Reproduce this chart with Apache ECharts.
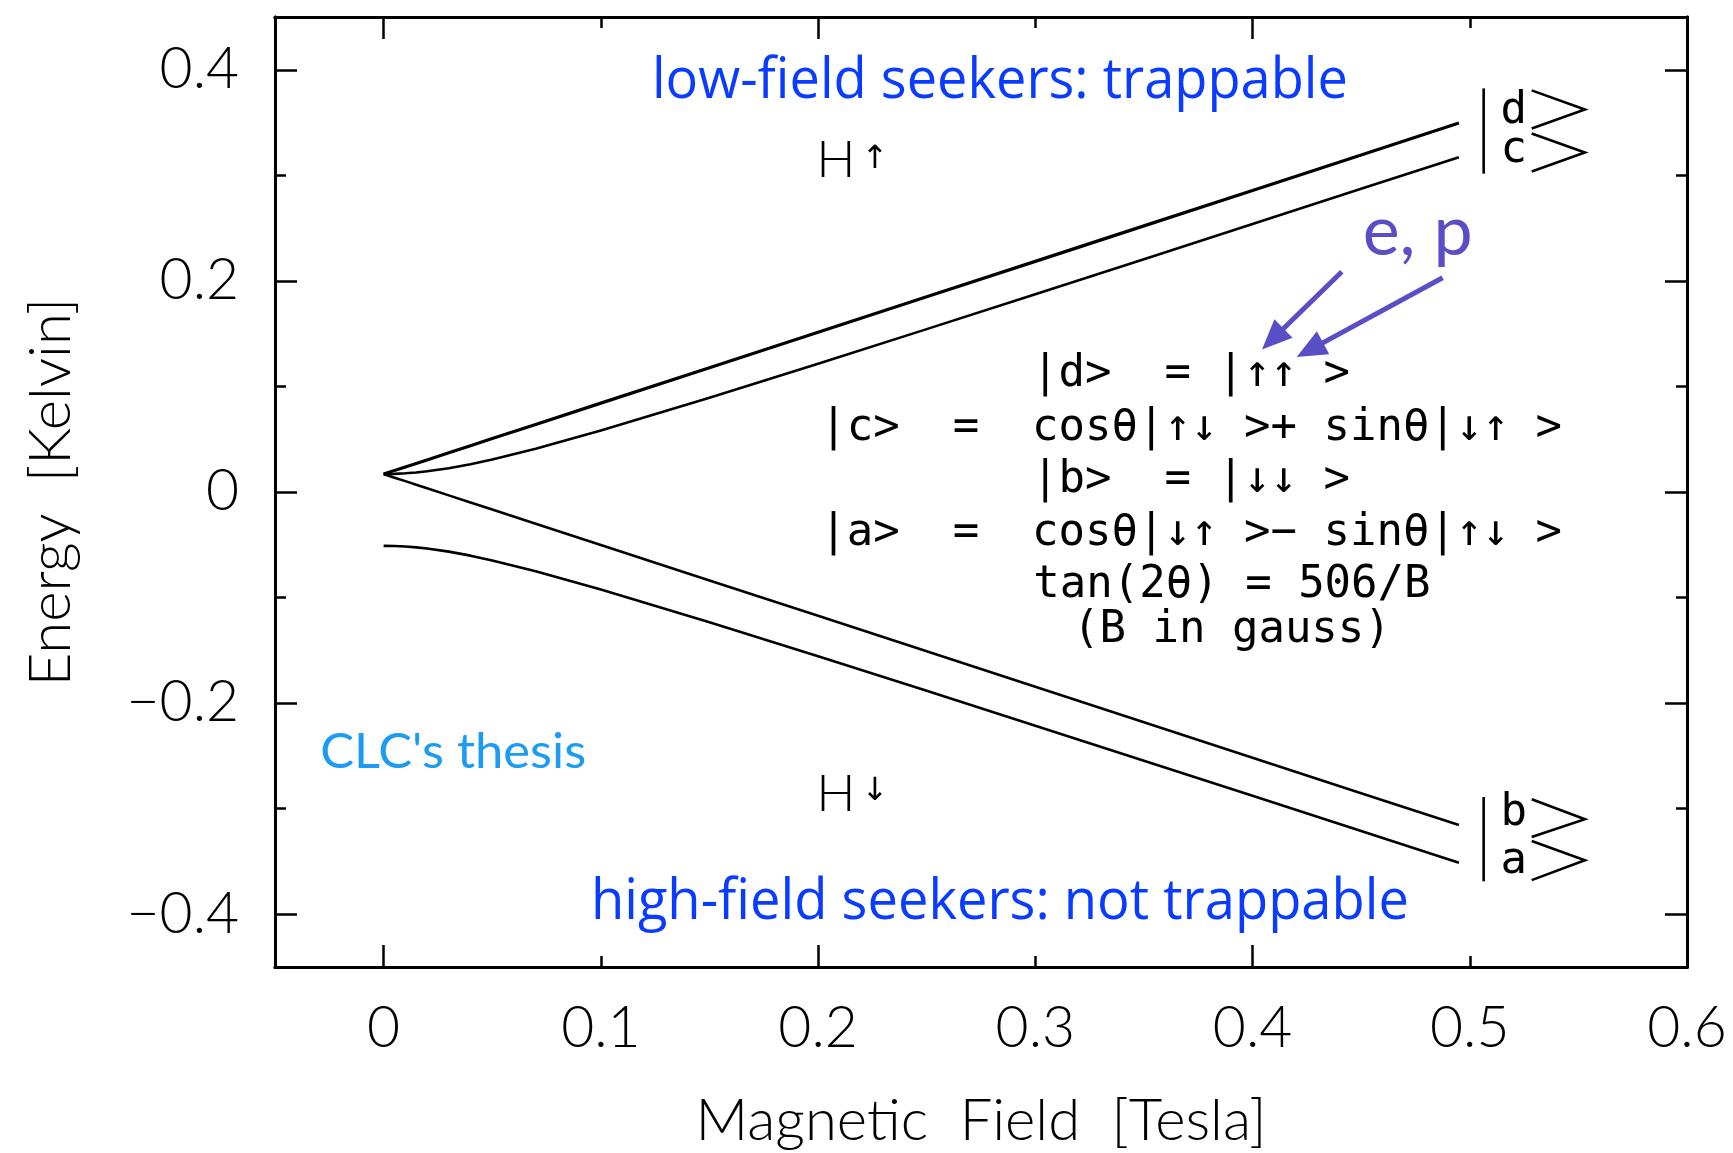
<!DOCTYPE html>
<html>
<head>
<meta charset="utf-8">
<script src="https://cdn.jsdelivr.net/npm/echarts@6/dist/echarts.min.js"></script>
<style>
  html, body { margin: 0; padding: 0; background: #fff; }
  #chart { width: 1733px; height: 1153px; }
</style>
</head>
<body>
<div id="chart"></div>
<script>
// Hyperfine levels of ground-state hydrogen in a magnetic field (energies in kelvin)
const fieldTesla = [0, 0.005, 0.01, 0.015, 0.02, 0.03, 0.04, 0.05, 0.07, 0.1, 0.15, 0.2, 0.25, 0.3, 0.35, 0.4, 0.45, 0.495];
const energyD = [0.017, 0.0204, 0.0237, 0.0271, 0.0304, 0.0372, 0.0439, 0.0506, 0.0640, 0.0842, 0.1178, 0.1513, 0.1849, 0.2185, 0.2521, 0.2857, 0.3193, 0.3495];
const energyC = [0.017, 0.0172, 0.0177, 0.0185, 0.0196, 0.0225, 0.0263, 0.0308, 0.0410, 0.0583, 0.0893, 0.1216, 0.1543, 0.1874, 0.2205, 0.2538, 0.2872, 0.3172];
const energyB = [0.017, 0.0136, 0.0103, 0.0069, 0.0036, -0.0032, -0.0099, -0.0166, -0.0300, -0.0502, -0.0838, -0.1173, -0.1509, -0.1845, -0.2181, -0.2517, -0.2853, -0.3155];
const energyA = [-0.051, -0.0512, -0.0517, -0.0525, -0.0536, -0.0565, -0.0603, -0.0648, -0.0750, -0.0923, -0.1233, -0.1556, -0.1883, -0.2214, -0.2545, -0.2878, -0.3212, -0.3512];

// Tick labels and tick positions
const xLabelValues = [0, 0.1, 0.2, 0.3, 0.4, 0.5, 0.6];
const xLabelText = ['0', '0.1', '0.2', '0.3', '0.4', '0.5', '0.6'];
const yLabelValues = [-0.4, -0.2, 0, 0.2, 0.4];
const yLabelText = ['\u22120.4', '\u22120.2', '0', '0.2', '0.4'];
const xMajorTicks = [0, 0.2, 0.4, 0.6];
const xMinorTicks = [0.1, 0.3, 0.5];
const yMajorTicks = [-0.4, -0.2, 0, 0.2, 0.4];
const yMinorTicks = [-0.3, -0.1, 0.1, 0.3];

// Text blocks
const stateLines = [
  '|d>  = |\u2191\u2191 >',
  '|c>  =  cos\u03b8|\u2191\u2193 >+ sin\u03b8|\u2193\u2191 >',
  '|b>  = |\u2193\u2193 >',
  '|a>  =  cos\u03b8|\u2193\u2191 >\u2212 sin\u03b8|\u2191\u2193 >',
  'tan(2\u03b8) = 506/B',
  '(B in gauss)'
];
const stateLineY = [0.1108, 0.0605, 0.0111, -0.0392, -0.0886, -0.1313];
const stateLineX = [0.3717, 0.3717, 0.3717, 0.3717, 0.3905, 0.3905];

const HERSHEY = 'Lato';
const MONO = '"DejaVu Sans Mono", monospace';

const chart = echarts.init(document.getElementById('chart'), null, { renderer: 'canvas' });

function labelFor(values, texts) {
  return function (v) {
    const i = values.findIndex(t => Math.abs(t - v) < 1e-9);
    return i >= 0 ? texts[i] : '';
  };
}

const frameLine = { show: true, onZero: false, lineStyle: { color: '#000', width: 3 } };
const tickStyle = { color: '#000', width: 2.5 };
const tickFont = { color: '#000', fontFamily: HERSHEY, fontWeight: 300, fontSize: 57 };

function xAxisDef(position, ticks, len, withLabels, name) {
  const ax = {
    type: 'value', gridIndex: 0, min: -0.05, max: 0.6, position: position,
    axisLine: frameLine,
    axisTick: { show: true, inside: true, length: len, customValues: ticks, lineStyle: tickStyle },
    axisLabel: { show: false },
    splitLine: { show: false },
    minorTick: { show: false }
  };
  if (withLabels) {
    ax.axisLabel = Object.assign({ show: true, margin: 33, customValues: xLabelValues,
      formatter: labelFor(xLabelValues, xLabelText) }, tickFont);
  }
  if (name) {
    ax.name = name;
    ax.nameLocation = 'middle';
    ax.nameGap = 125;
    ax.nameTextStyle = { color: '#000', fontFamily: HERSHEY, fontWeight: 300, fontSize: 58 };
  }
  return ax;
}

function yAxisDef(position, ticks, len, withLabels, name) {
  const ax = {
    type: 'value', gridIndex: 0, min: -0.45, max: 0.45, position: position,
    axisLine: frameLine,
    axisTick: { show: true, inside: true, length: len, customValues: ticks, lineStyle: tickStyle },
    axisLabel: { show: false },
    splitLine: { show: false },
    minorTick: { show: false }
  };
  if (withLabels) {
    ax.axisLabel = Object.assign({ show: true, margin: 36, customValues: yLabelValues,
      formatter: labelFor(yLabelValues, yLabelText) }, tickFont);
  }
  if (name) {
    ax.name = name;
    ax.nameLocation = 'middle';
    ax.nameGap = 195;
    ax.nameTextStyle = { color: '#000', fontFamily: HERSHEY, fontWeight: 300, fontSize: 58 };
  }
  return ax;
}

function levelSeries(name, values, width) {
  return {
    name: name, type: 'line', xAxisIndex: 0, yAxisIndex: 0,
    data: fieldTesla.map((b, i) => [b, values[i]]),
    showSymbol: false, symbol: 'none',
    smooth: false,
    lineStyle: { color: '#000', width: width, join: 'round' },
    silent: true, animation: false
  };
}

const arrowColor = '#5a4ec7';

const option = {
  backgroundColor: '#ffffff',
  animation: false,
  grid: { left: 275, right: 46, top: 17, bottom: 186, containLabel: false, outerBoundsMode: 'none' },
  xAxis: [
    xAxisDef('bottom', xMajorTicks, 22, true, 'Magnetic  Field  [Tesla]'),
    xAxisDef('bottom', xMinorTicks, 11, false),
    xAxisDef('top', xMajorTicks, 22, false),
    xAxisDef('top', xMinorTicks, 11, false)
  ],
  yAxis: [
    yAxisDef('left', yMajorTicks, 22, true, 'Energy  [Kelvin]'),
    yAxisDef('left', yMinorTicks, 11, false),
    yAxisDef('right', yMajorTicks, 22, false),
    yAxisDef('right', yMinorTicks, 11, false)
  ],
  series: [
    Object.assign(levelSeries('d', energyD, 3.2), {
      markLine: {
        silent: true,
        symbol: ['none', 'triangle'],
        symbolSize: [26, 30],
        label: { show: false },
        lineStyle: { color: arrowColor, width: 5, type: 'solid' },
        emphasis: { disabled: true },
        data: [
          [{ coord: [0.4411, 0.2086] }, { coord: [0.4093, 0.1450] }],
          [{ coord: [0.4875, 0.2030] }, { coord: [0.4264, 0.1346] }]
        ]
      }
    }),
    levelSeries('c', energyC, 2.6),
    levelSeries('b', energyB, 2.6),
    levelSeries('a', energyA, 2.6)
  ]
};

chart.setOption(option);

// Annotations anchored in data coordinates
const measureCtx = document.createElement('canvas').getContext('2d');
function fitScale(text, weight, size, family, width) {
  measureCtx.font = weight + ' ' + size + 'px ' + family;
  return width / measureCtx.measureText(text).width;
}
function px(x, y) {
  return chart.convertToPixel({ gridIndex: 0 }, [x, y]);
}
function textAt(x, y, text, opts) {
  const p = px(x, y);
  const weight = opts.weight || 'normal';
  const el = {
    type: 'text', x: p[0], y: p[1], silent: true,
    style: {
      text: text, fill: opts.color || '#000',
      fontSize: opts.size, fontFamily: opts.family, fontWeight: weight,
      align: opts.align || 'center', verticalAlign: 'middle'
    }
  };
  if (opts.fit) {
    el.scaleX = fitScale(text, weight, opts.size, opts.family, opts.fit);
  }
  return el;
}
function polyAt(points, width) {
  return {
    type: 'polyline', silent: true,
    shape: { points: points.map(q => px(q[0], q[1])) },
    style: { stroke: '#000', lineWidth: width, fill: null, lineJoin: 'miter' }
  };
}

const graphics = [];
const comic = '"Open Sans", sans-serif';
const gill = 'Lato, sans-serif';

graphics.push(textAt(0.2837, 0.388, 'low-field seekers: trappable',
  { size: 56, family: comic, color: '#0a3cff', fit: 696 }));
graphics.push(textAt(0.2837, -0.389, 'high-field seekers: not trappable',
  { size: 56, family: comic, color: '#0a3cff', fit: 818 }));
graphics.push(textAt(0.032, -0.247, "CLC's thesis",
  { size: 48, family: gill, color: '#1b9bf2', fit: 266 }));
graphics.push(textAt(0.476, 0.2455, 'e, p',
  { size: 70, family: gill, color: arrowColor, fit: 110 }));

// Atom spin labels
graphics.push(textAt(0.2082, 0.3139, 'H', { size: 52, family: HERSHEY, weight: 300 }));
graphics.push(textAt(0.2262, 0.3150, '\u2191', { size: 32, family: '"DejaVu Sans"' }));
graphics.push(textAt(0.2082, -0.2862, 'H', { size: 52, family: HERSHEY, weight: 300 }));
graphics.push(textAt(0.2262, -0.2840, '\u2193', { size: 32, family: '"DejaVu Sans"' }));

// State definitions
stateLines.forEach((line, i) => {
  graphics.push(textAt(stateLineX[i], stateLineY[i], line, { size: 44, family: MONO }));
});

// Ket labels at the right end of the levels
graphics.push(polyAt([[0.5064, 0.3824], [0.5064, 0.3016]], 2.6));
graphics.push(polyAt([[0.5064, -0.2890], [0.5064, -0.3688]], 2.6));
graphics.push(polyAt([[0.5285, 0.3805], [0.5530, 0.3624], [0.5285, 0.3444]], 2.6));
graphics.push(polyAt([[0.5285, 0.3397], [0.5530, 0.3216], [0.5285, 0.3036]], 2.6));
graphics.push(polyAt([[0.5285, -0.2910], [0.5530, -0.3100], [0.5285, -0.3269]], 2.6));
graphics.push(polyAt([[0.5285, -0.3307], [0.5530, -0.3488], [0.5285, -0.3677]], 2.6));
graphics.push(textAt(0.5202, 0.3600, 'd', { size: 44, family: MONO }));
graphics.push(textAt(0.5202, 0.3230, 'c', { size: 44, family: MONO }));
graphics.push(textAt(0.5202, -0.3050, 'b', { size: 44, family: MONO }));
graphics.push(textAt(0.5202, -0.3500, 'a', { size: 44, family: MONO }));

chart.setOption({ graphic: graphics });
</script>
</body>
</html>
